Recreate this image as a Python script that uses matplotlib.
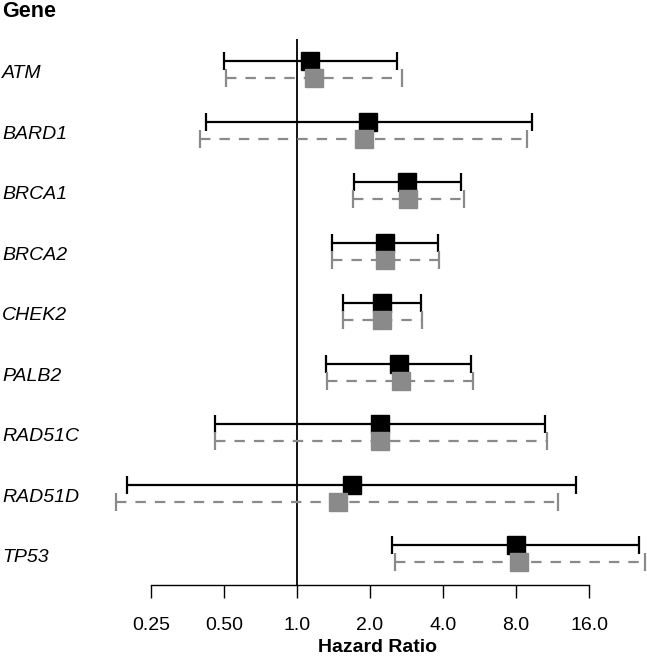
import matplotlib
matplotlib.use("Agg")
import matplotlib.pyplot as plt
import matplotlib.transforms as mtransforms

plt.rcParams['font.family'] = ['Liberation Sans', 'DejaVu Sans']
plt.rcParams['lines.scale_dashes'] = False

genes = ["ATM", "BARD1", "BRCA1", "BRCA2", "CHEK2", "PALB2", "RAD51C", "RAD51D", "TP53"]

# series 1 (black, solid)
hr1 = [1.13, 1.97, 2.84, 2.31, 2.24, 2.63, 2.20, 1.69, 7.97]
lo1 = [0.50, 0.42, 1.71, 1.39, 1.55, 1.32, 0.46, 0.20, 2.46]
hi1 = [2.58, 9.28, 4.73, 3.81, 3.25, 5.23, 10.55, 14.1, 25.8]

# series 2 (grey, dashed)
hr2 = [1.17, 1.89, 2.88, 2.31, 2.25, 2.68, 2.20, 1.48, 8.27]
lo2 = [0.51, 0.40, 1.70, 1.39, 1.55, 1.33, 0.46, 0.18, 2.53]
hi2 = [2.71, 8.86, 4.87, 3.85, 3.27, 5.32, 10.7, 11.94, 27.3]

tick_vals = [0.25, 0.5, 1.0, 2.0, 4.0, 8.0, 16.0]
tick_labels = ["0.25", "0.50", "1.0", "2.0", "4.0", "8.0", "16.0"]

W, H = 647, 657
fig = plt.figure(figsize=(W / 100, H / 100), dpi=100)

# axes: left 100px .. right 647px ; top 30px .. bottom 585px
left_px, right_px, top_px, bot_px = 100, 647, 30, 585
ax = fig.add_axes([left_px / W, 1 - bot_px / H, (right_px - left_px) / W, (bot_px - top_px) / H])
ax.set_xscale('log', base=2)
px_per_doubling = 73.0
x1_px = 297.0
ax.set_xlim(2 ** ((left_px - x1_px) / px_per_doubling), 2 ** ((right_px - x1_px) / px_per_doubling))

row_px = 60.5
row0_px = 69.5
ax.set_ylim((bot_px - row0_px) / row_px, (top_px - row0_px) / row_px)

off = 8.5 / row_px
grey = '#8a8a8a'

# reference line at HR = 1
ax.vlines(1.0, (39 - row0_px) / row_px, (bot_px - row0_px) / row_px, color='black', lw=1.3, zorder=1)

for i in range(len(genes)):
    y1 = i - off
    y2 = i + off
    ax.errorbar([hr1[i]], [y1], xerr=[[hr1[i] - lo1[i]], [hi1[i] - hr1[i]]],
                fmt='none', ecolor='black', elinewidth=1.6, capsize=6.5, capthick=1.6, zorder=2)
    eb = ax.errorbar([hr2[i]], [y2], xerr=[[hr2[i] - lo2[i]], [hi2[i] - hr2[i]]],
                     fmt='none', ecolor=grey, elinewidth=1.6, capsize=6.5, capthick=1.6, zorder=2)
    for lc in eb[2]:
        lc.set_linestyle((0, (7.5, 6.5)))
    for cap in eb[1]:
        cap.set_linestyle((0, (3, 2)))
    ax.plot([hr1[i]], [y1], marker='s', ms=13.5, color='black', ls='none', zorder=3)
    ax.plot([hr2[i]], [y2], marker='s', ms=13.5, color=grey, ls='none', zorder=4)

for s in ['top', 'right', 'left']:
    ax.spines[s].set_visible(False)
ax.spines['bottom'].set_bounds(0.25, 16)
ax.spines['bottom'].set_linewidth(1.0)
ax.set_xticks(tick_vals)
ax.set_xticklabels(tick_labels, fontsize=14)
ax.xaxis.set_minor_locator(matplotlib.ticker.NullLocator())
ax.tick_params(axis='x', length=9.1, width=1.0, pad=13.8, direction='out')
ax.set_yticks([])

trans = mtransforms.blended_transform_factory(fig.transFigure, ax.transData)
base_off = 8.8 / row_px
for i, g in enumerate(genes):
    ax.text(2 / W, i + base_off, g, transform=trans, fontsize=14, style='italic',
            ha='left', va='baseline')

fig.text(2 / W, 1 - 17.3 / H, "Gene", fontsize=15.5, fontweight='bold', ha='left', va='baseline')
fig.text(377 / W, 1 - 652 / H, "Hazard Ratio", fontsize=14, fontweight='bold', ha='center', va='baseline')

fig.savefig("out.png", dpi=100)
